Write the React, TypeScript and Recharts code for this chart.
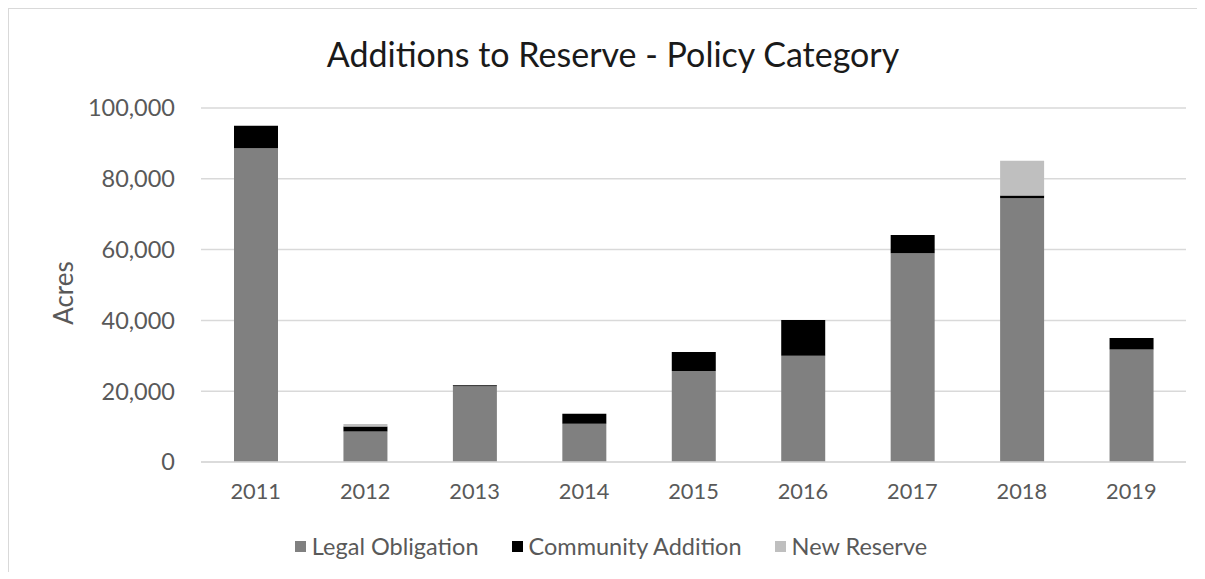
import { BarChart, Bar, XAxis, YAxis, CartesianGrid, Legend } from "recharts";

const years = ["2011", "2012", "2013", "2014", "2015", "2016", "2017", "2018", "2019"];
const legalObligation = [88600, 8600, 21400, 10800, 25700, 30000, 59000, 74500, 31800];
const communityAddition = [6400, 1400, 300, 2800, 5400, 10100, 5100, 800, 3200];
const newReserve = [0, 700, 0, 0, 0, 0, 0, 9800, 0];
const yTicks = [0, 20000, 40000, 60000, 80000, 100000];

const FONT = "Lato, 'Open Sans', sans-serif";
const TEXT = "#595959";

const series = [
  { key: "legal", name: "Legal Obligation", color: "#808080" },
  { key: "community", name: "Community Addition", color: "#000000" },
  { key: "newReserve", name: "New Reserve", color: "#bfbfbf" },
];

const data = years.map((year, i) => ({
  year,
  legal: legalObligation[i],
  community: communityAddition[i],
  newReserve: newReserve[i],
}));

// legend drawn like the Excel one: small squares with grey text
const LegendRow = () => (
  <div
    style={{
      display: "flex",
      justifyContent: "center",
      gap: 33,
      fontFamily: FONT,
      fontSize: 23.5,
      color: TEXT,
      lineHeight: "24px",
      paddingLeft: 8,
    }}
  >
    {series.map((s) => (
      <div key={s.key} style={{ display: "flex", alignItems: "center" }}>
        <span style={{ display: "inline-block", width: 11, height: 11, background: s.color, marginRight: 6 }} />
        {s.name}
      </div>
    ))}
  </div>
);

export default function App() {
  return (
    <div
      style={{
        position: "relative",
        width: 1196,
        height: 563,
        borderLeft: "1px solid #d9d9d9",
        borderTop: "1px solid #d9d9d9",
        background: "#fff",
        overflow: "hidden",
      }}
    >
      <div
        style={{
          position: "absolute",
          top: 24,
          left: 0,
          width: 1208,
          textAlign: "center",
          fontFamily: FONT,
          fontSize: 34,
          color: "#1a1a1a",
        }}
      >
        Additions to Reserve - Policy Category
      </div>
      <div
        style={{
          position: "absolute",
          left: 54,
          top: 284,
          transform: "translate(-50%, -50%) rotate(-90deg)",
          fontFamily: FONT,
          fontSize: 26,
          color: TEXT,
        }}
      >
        Acres
      </div>
      <BarChart
        width={1196}
        height={555}
        data={data}
        margin={{ top: 99, right: 19, left: 0, bottom: 48 }}
        barSize={44}
      >
        <CartesianGrid vertical={false} stroke="#d9d9d9" strokeWidth={1.5} />
        <XAxis
          dataKey="year"
          axisLine={{ stroke: "#d9d9d9", strokeWidth: 1.5 }}
          tickLine={false}
          tickSize={0}
          tickMargin={22}
          height={30}
          tick={{ fill: TEXT, fontFamily: FONT, fontSize: 21.8 }}
        />
        <YAxis
          width={192}
          domain={[0, 100000]}
          ticks={yTicks}
          axisLine={false}
          tickLine={false}
          tickSize={0}
          tickMargin={26}
          tickFormatter={(v: number) => v.toLocaleString("en-US")}
          tick={{ fill: TEXT, fontFamily: FONT, fontSize: 23.5 }}
        />
        <Legend
          verticalAlign="bottom"
          content={<LegendRow />}
          wrapperStyle={{ height: 24, top: 525, left: 0, width: 1196 }}
        />
        {series.map((s) => (
          <Bar
            key={s.key}
            dataKey={s.key}
            name={s.name}
            stackId="a"
            fill={s.color}
            isAnimationActive={false}
          />
        ))}
      </BarChart>
    </div>
  );
}
